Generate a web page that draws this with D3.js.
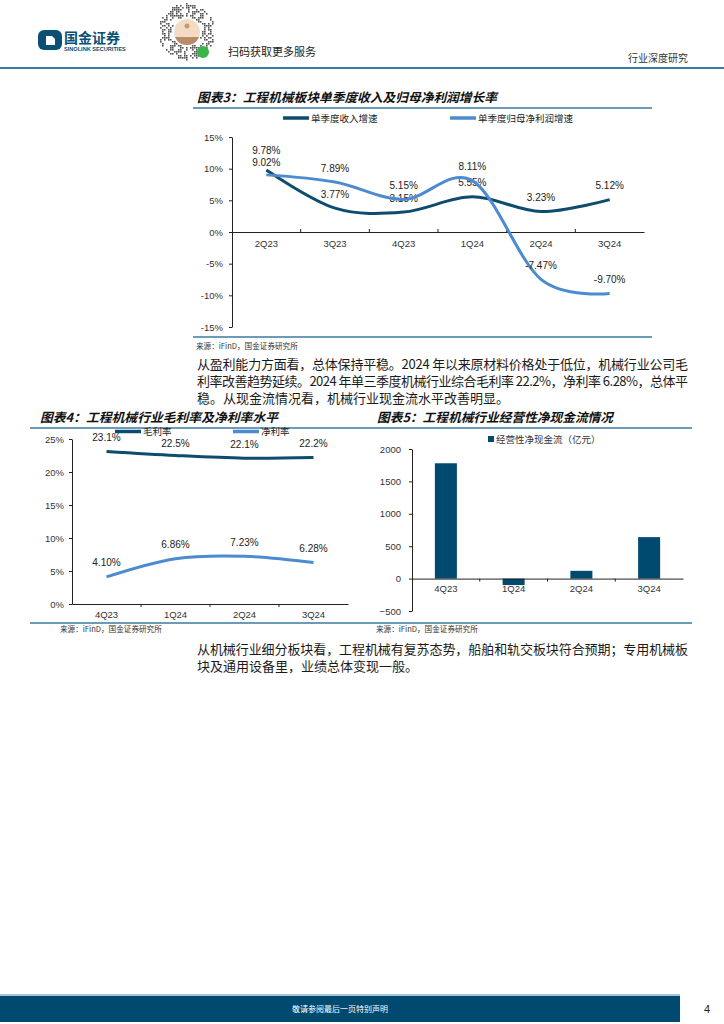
<!DOCTYPE html>
<html>
<head>
<meta charset="utf-8">
<script src="https://cdn.jsdelivr.net/npm/d3@7"></script>
<style>
  html, body { margin: 0; padding: 0; background: #fff; }
  svg { display: block; }
  text { font-family: "Liberation Sans", Arial, "Noto Sans CJK SC", sans-serif; }
  .cjk { font-family: "Noto Sans CJK SC", sans-serif; }
  .axis text { font-family: "Liberation Sans", Arial, sans-serif; fill: #333; }
  .axis path, .axis line { stroke: #222; }
</style>
</head>
<body>
<svg width="724" height="1024"></svg>
<script>
// chart 3
const cats3 = ["2Q23", "3Q23", "4Q23", "1Q24", "2Q24", "3Q24"];
const revGrowth = [9.78, 3.77, 3.15, 5.55, 3.23, 5.12];
const profitGrowth = [9.02, 7.89, 5.15, 8.11, -7.47, -9.70];
const yTicks3 = [-15, -10, -5, 0, 5, 10, 15];

// chart 4
const cats4 = ["4Q23", "1Q24", "2Q24", "3Q24"];
const grossMargin = [23.1, 22.5, 22.1, 22.2];
const netMargin = [4.10, 6.86, 7.23, 6.28];
const yTicks4 = [0, 5, 10, 15, 20, 25];

// chart 5
const cats5 = ["4Q23", "1Q24", "2Q24", "3Q24"];
const cashFlow = [1780, -100, 120, 640];
const yTicks5 = [-500, 0, 500, 1000, 1500, 2000];

const DARK = "#0d4c6d", LIGHT = "#4c8bcf", RULE = "#3b7aa3", NAVY = "#004a6f";
const svg = d3.select("svg");

// ---------- page header ----------
const head = svg.append("g");
head.append("path")
    .attr("d", "M44,30 h12 a6,6 0 0 1 6,6 v8 a6,6 0 0 1 -6,6 h-12 a6,6 0 0 1 -6,-6 v-8 a6,6 0 0 1 6,-6z")
    .attr("fill", "#0b4f72");
head.append("path").attr("d", "M46,36 h6 l3,3 v6 h-9z").attr("fill", "#fff");
head.append("text").attr("class", "cjk").attr("x", 64).attr("y", 43)
    .attr("font-size", 14).attr("font-weight", "bold").attr("fill", "#0b4f72").text("国金证券");
head.append("text").attr("x", 64).attr("y", 50.5)
    .attr("font-size", 5.6).attr("font-weight", "bold").attr("fill", "#0b4f72").text("SINOLINK SECURITIES");

// qr-like badge (decoration)
const qr = head.append("g").attr("transform", "translate(187,32)");
for (let i = -14; i <= 14; i++) {
  for (let j = -14; j <= 14; j++) {
    const r = Math.hypot(i, j);
    if (r > 14 || r < 7.5) continue;
    const h = Math.abs(Math.sin(i * 12.9898 + j * 78.233) * 43758.5453) % 1;
    if (h < 0.45) continue;
    qr.append("rect").attr("x", i * 2 - 1).attr("y", j * 2 - 1)
        .attr("width", 1.6).attr("height", 1.6).attr("fill", "#555");
  }
}
qr.append("circle").attr("r", 13).attr("fill", "#f3dcc4");
qr.append("path").attr("d", "M-12,5 A13,13 0 0 0 12,5 Z").attr("fill", "#b98b66");
qr.append("circle").attr("cy", -6).attr("r", 2.5).attr("fill", "#c79a72");
qr.append("circle").attr("cx", 16).attr("cy", 20).attr("r", 6).attr("fill", "#39b54a");
head.append("text").attr("class", "cjk").attr("x", 228).attr("y", 56)
    .attr("font-size", 11).attr("fill", "#222").text("扫码获取更多服务");
head.append("text").attr("class", "cjk").attr("x", 688).attr("y", 62)
    .attr("text-anchor", "end").attr("font-size", 10).attr("fill", "#333").text("行业深度研究");
head.append("rect").attr("x", 0).attr("y", 67).attr("width", 724).attr("height", 2).attr("fill", RULE);

// ---------- helpers ----------
function title(x, y, txt, len) {
  svg.append("text").attr("class", "cjk").attr("x", x).attr("y", y)
      .attr("font-size", 12.5).attr("font-weight", "bold").attr("font-style", "italic")
      .attr("textLength", len).attr("lengthAdjust", "spacingAndGlyphs")
      .attr("fill", "#111").text(txt);
}
function source(x, y, txt) {
  svg.append("text").attr("class", "cjk").attr("x", x).attr("y", y)
      .attr("font-size", 7.6).attr("fill", "#333").text(txt);
}
function rule(x1, x2, y) {
  svg.append("line").attr("x1", x1).attr("x2", x2).attr("y1", y).attr("y2", y)
      .attr("stroke", RULE).attr("stroke-width", 1.5);
}
function para(x, y, lines, justifyCount) {
  lines.forEach((l, i) => {
    const t = svg.append("text").attr("class", "cjk").attr("x", x).attr("y", y + i * 17)
        .attr("font-size", 13).attr("fill", "#1a1a1a").text(l);
    if (i < justifyCount) t.attr("textLength", 491).attr("lengthAdjust", "spacing");
  });
}
function xAxisBand(g, x, y0, pad, tickUp) {
  const ax = g.append("g").attr("class", "axis").attr("transform", `translate(0,${y0})`)
      .call(d3.axisBottom(x).tickSize(0).tickPadding(pad).tickSizeOuter(0));
  ax.selectAll("text").attr("font-size", 9.5);
  x.domain().slice(1).forEach(d => {
    g.append("line").attr("x1", x(d)).attr("x2", x(d))
        .attr("y1", y0).attr("y2", y0 + (tickUp ? -3 : 3)).attr("stroke", "#222");
  });
}
function yAxis(g, y, x0, ticks, fmt, pad) {
  const ax = g.append("g").attr("class", "axis").attr("transform", `translate(${x0},0)`)
      .call(d3.axisLeft(y).tickValues(ticks).tickFormat(fmt).tickSize(3).tickPadding(pad).tickSizeOuter(0));
  ax.selectAll("text").attr("font-size", 9.5);
}
// lift: optional per-point extra offset so stacked labels don't collide
function lineSeries(g, x, y, cats, vals, color, labelFmt, lift) {
  const cx = d => x(d) + x.bandwidth() / 2;
  const pts = cats.map((c, i) => [cx(c), y(vals[i])]);
  g.append("path").datum(pts)
      .attr("d", d3.line().curve(d3.curveCardinal.tension(0)))
      .attr("fill", "none").attr("stroke", color).attr("stroke-width", 3);
  g.selectAll(null).data(vals).join("text")
      .attr("x", (d, i) => cx(cats[i]))
      .attr("y", (d, i) => y(d) - 10.5 - (lift ? lift[i] : 0))
      .attr("text-anchor", "middle").attr("font-size", 10).attr("fill", "#222")
      .text(labelFmt);
}
function legendLine(g, x, y, color, txt) {
  g.append("line").attr("x1", x).attr("x2", x + 26).attr("y1", y).attr("y2", y)
      .attr("stroke", color).attr("stroke-width", 3.5);
  g.append("text").attr("class", "cjk").attr("x", x + 28).attr("y", y + 3.5)
      .attr("font-size", 9.5).attr("fill", "#222").text(txt);
}

// ---------- chart 3 ----------
title(197, 102, "图表3：工程机械板块单季度收入及归母净利润增长率", 300);
rule(193, 652, 108);
const g3 = svg.append("g");
const x3 = d3.scaleBand().domain(cats3).range([232, 644]);
const y3 = d3.scaleLinear().domain([-15, 15]).range([327, 137]);
yAxis(g3, y3, 232, yTicks3, d => d + "%", 6);
xAxisBand(g3, x3, y3(0), 8, true);
lineSeries(g3, x3, y3, cats3, revGrowth, DARK, d => d.toFixed(2) + "%", [6, 0, 0, 0, 0, 0]);
lineSeries(g3, x3, y3, cats3, profitGrowth, LIGHT, d => d.toFixed(2) + "%", [-1.5, 0, 0, 0, 0, 0]);
legendLine(g3, 283, 118, DARK, "单季度收入增速");
legendLine(g3, 450, 118, LIGHT, "单季度归母净利润增速");
rule(193, 652, 337);
source(196, 349, "来源：iFinD，国金证券研究所");

para(197, 369, [
  "从盈利能力方面看，总体保持平稳。2024 年以来原材料价格处于低位，机械行业公司毛",
  "利率改善趋势延续。2024 年单三季度机械行业综合毛利率 22.2%，净利率 6.28%，总体平",
  "稳。从现金流情况看，机械行业现金流水平改善明显。"
], 2);

// ---------- chart 4 ----------
title(40, 422, "图表4：工程机械行业毛利率及净利率水平", 238);
title(377, 422, "图表5：工程机械行业经营性净现金流情况", 236);
rule(30, 692, 428);
const g4 = svg.append("g");
const x4 = d3.scaleBand().domain(cats4).range([72, 348]);
const y4 = d3.scaleLinear().domain([0, 25]).range([604, 439]);
yAxis(g4, y4, 72, yTicks4, d => d + "%", 5);
xAxisBand(g4, x4, y4(0), 7, false);
lineSeries(g4, x4, y4, cats4, grossMargin, DARK, d => d.toFixed(1) + "%", [0, -1.5, 0, 0]);
lineSeries(g4, x4, y4, cats4, netMargin, LIGHT, d => d.toFixed(2) + "%");
legendLine(g4, 115, 431.5, DARK, "毛利率");
legendLine(g4, 233, 431.5, LIGHT, "净利率");

// ---------- chart 5 ----------
const g5 = svg.append("g");
const x5 = d3.scaleBand().domain(cats5).range([412, 683]).paddingInner(0.675).paddingOuter(0.3375);
const x5b = d3.scaleBand().domain(cats5).range([412, 683]);
const y5 = d3.scaleLinear().domain([-500, 2000]).range([611, 449]);
g5.selectAll("rect.bar").data(cashFlow).join("rect").attr("class", "bar")
    .attr("x", (d, i) => x5(cats5[i])).attr("width", x5.bandwidth())
    .attr("y", d => y5(Math.max(0, d))).attr("height", d => Math.abs(y5(d) - y5(0)))
    .attr("fill", NAVY);
yAxis(g5, y5, 412, yTicks5, d3.format("d"), 8);
xAxisBand(g5, x5b, y5(0), 7, false);
g5.selectAll(".axis text").attr("fill", "#555");
g5.append("rect").attr("x", 488).attr("y", 436).attr("width", 6).attr("height", 6).attr("fill", NAVY);
g5.append("text").attr("class", "cjk").attr("x", 496).attr("y", 442.5)
    .attr("font-size", 9.5).attr("fill", "#333").text("经营性净现金流（亿元）");

rule(30, 692, 623);
source(60, 632, "来源：iFinD，国金证券研究所");
source(376, 632, "来源：iFinD，国金证券研究所");

para(197, 654, [
  "从机械行业细分板块看，工程机械有复苏态势，船舶和轨交板块符合预期；专用机械板",
  "块及通用设备里，业绩总体变现一般。"
], 1);

// ---------- footer ----------
svg.append("rect").attr("x", 0).attr("y", 994).attr("width", 680).attr("height", 2).attr("fill", "#a8c4d8");
svg.append("rect").attr("x", 0).attr("y", 996).attr("width", 680).attr("height", 26).attr("fill", NAVY);
svg.append("text").attr("class", "cjk").attr("x", 340).attr("y", 1011.5).attr("text-anchor", "middle")
    .attr("font-size", 8).attr("fill", "#fff").text("敬请参阅最后一页特别声明");
svg.append("text").attr("x", 707).attr("y", 1013).attr("text-anchor", "middle")
    .attr("font-size", 11).attr("fill", "#222").text("4");
</script>
</body>
</html>
